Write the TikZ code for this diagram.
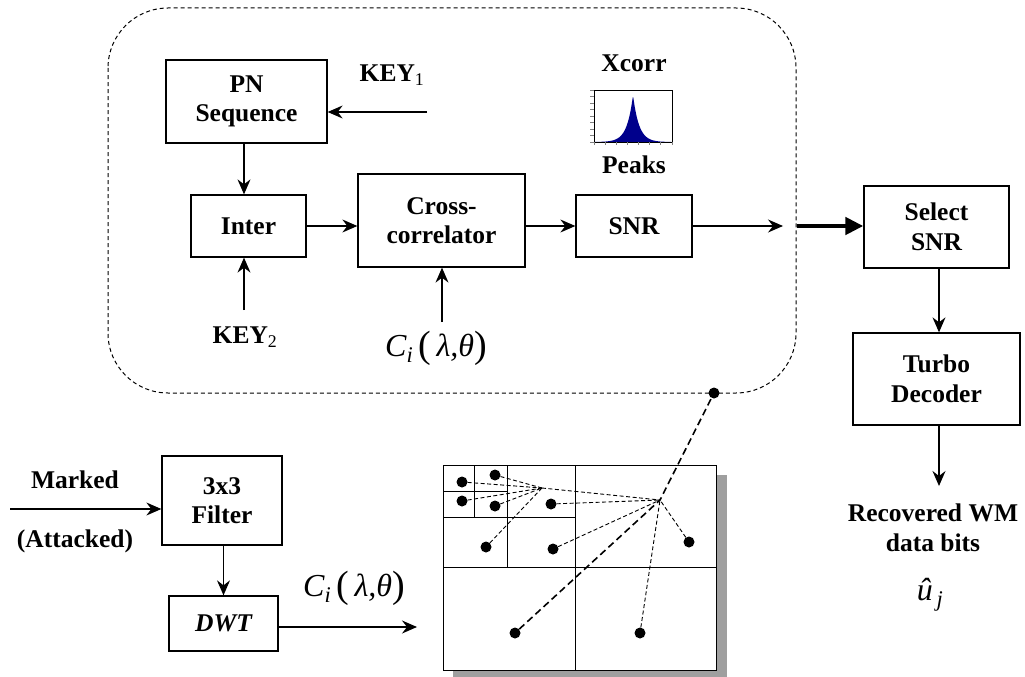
\documentclass[tikz,border=0pt]{standalone}
\usepackage{fontspec}
\setmainfont{LiberationSerif}[Extension=.ttf, UprightFont=*-Regular, BoldFont=*-Bold, ItalicFont=*-Italic, BoldItalicFont=*-BoldItalic]
\usetikzlibrary{arrows.meta,calc}
\definecolor{peakblue}{RGB}{0,0,140}
\newcommand\lbfont{\fontsize{25.5}{29.5}\selectfont\bfseries}
\newcommand\mathlbl{\fontsize{32}{36}\selectfont\itshape}
\newcommand\bigpar[1]{{\upshape\fontsize{38}{38}\selectfont\raisebox{-1pt}{#1}}}
\newcommand\coefflabel{C\textsubscript{i}\,\bigpar{(}\,λ,θ\bigpar{)}}
\tikzset{
  box/.style={draw, line width=1.3pt, fill=white, align=center, inner sep=0pt, font=\lbfont},
  lbl/.style={align=center, inner sep=0pt, font=\lbfont},
  mlbl/.style={inner sep=0pt, font=\mathlbl},
  arr/.style={line width=1.2pt, -{Stealth[length=15pt,width=13pt,inset=5pt]}},
  fatarr/.style={line width=4.5pt, -{Triangle[length=18pt,width=17pt]}},
  frame/.style={line width=1pt, dash pattern=on 4pt off 3pt},
  grid/.style={line width=1pt},
  dot/.style={circle, fill=black, inner sep=0pt, minimum size=11pt},
  link/.style={line width=0.9pt, dash pattern=on 4pt off 2.5pt},
  fatlink/.style={line width=1.6pt, dash pattern=on 7pt off 4pt},
}
\begin{document}
\begin{tikzpicture}[x=1pt,y=-1pt]
\useasboundingbox (0,0) rectangle (1025,677);

% detector enclosure
\draw[frame, rounded corners=60pt] (108,8) rectangle (796,393);
\coordinate (tap) at (714,393);

% processing blocks
\node[box, minimum width=161pt, minimum height=83pt] (pn) at (246.5,101.5) {PN\\Sequence};
\node[box, minimum width=115pt, minimum height=62pt] (inter) at (248.5,226) {Inter};
\node[box, minimum width=167pt, minimum height=93pt] (cross) at (441.5,220.5) {Cross-\\correlator};
\node[box, minimum width=116pt, minimum height=62pt] (snr) at (634,226) {SNR};
\node[box, minimum width=145pt, minimum height=82pt] (sel) at (936.5,227) {Select\\SNR};
\node[box, minimum width=167pt, minimum height=92pt] (turbo) at (936.5,379) {Turbo\\Decoder};
\node[box, minimum width=120pt, minimum height=89pt] (filt) at (222,500.5) {3x3\\Filter};
\node[box, minimum width=109pt, minimum height=55pt] (dwt) at (223.5,623.5) {\itshape DWT};

% labels
\node[lbl] (key1) at (392,75) {KEY\textsubscript{\mdseries 1}};
\node[lbl] (key2) at (245,337) {KEY\textsubscript{\mdseries 2}};
\node[mlbl] (ci1) at (436,348) {\coefflabel};
\node[mlbl] (ci2) at (354,588) {\coefflabel};
\node[lbl] (xcorr) at (634,63) {Xcorr};
\node[lbl] (peaks) at (634,165) {Peaks};
\node[lbl] (marked) at (75,480) {Marked};
\node[lbl] (attacked) at (75,541) {(Attacked)};
\node[lbl] (rec) at (933,528) {Recovered WM\\data bits};
\node[mlbl] (uhat) at (930,595) {û\textsubscript{\,j}};

% cross-correlation peak thumbnail
\begin{scope}
  \fill[peakblue] plot[domain=595:671, samples=120] (\x, {142-47*exp(-abs(\x-633)/6)}) -- (671,142) -- (595,142) -- cycle;
  \draw[line width=0.6pt] (594,90) rectangle (672,142);
  \foreach \t in {0,...,8} \draw[gray, line width=0.4pt] (590,{90+\t*6.5}) -- (594,{90+\t*6.5});
  \foreach \t in {0,...,7} \draw[gray, line width=0.4pt] ({594+\t*11.1},142) -- ({594+\t*11.1},145);
\end{scope}

% free ends of connectors
\coordinate (k1end) at (427,112);
\coordinate (k2end) at (244,310);
\coordinate (ciend) at (442,322);
\coordinate (snrout) at (783,226);
\coordinate (fatstart) at (797,226);
\coordinate (recin) at (939,486);
\coordinate (inp) at (10,509);
\coordinate (dwtout) at (417,627);

% connectors
\draw[arr] (k1end) -- (k1end -| pn.east);
\draw[arr] (pn.south -| k2end) -- (inter.north -| k2end);
\draw[arr] (k2end) -- (k2end |- inter.south);
\draw[arr] (inter.east) -- (inter.east -| cross.west);
\draw[arr] (ciend) -- (ciend |- cross.south);
\draw[arr] (cross.east |- snr.west) -- (snr.west);
\draw[arr] (snr.east) -- (snrout);
\draw[fatarr] (fatstart) -- (fatstart -| sel.west);
\draw[arr] (sel.south -| recin) -- (turbo.north -| recin);
\draw[arr] (turbo.south -| recin) -- (recin);
\draw[arr] (inp) -- (inp -| filt.west);
\draw[arr] (filt.south -| dwt.north) -- (dwt.north);
\draw[arr] (dwt.east |- dwtout) -- (dwtout);

% wavelet subband layout with drop shadow
\fill[gray!75] (453,475) rectangle (727,682);
\draw[grid, fill=white] (443,465) rectangle (716,670);
\draw[grid] (575,465) -- (575,670);
\draw[grid] (443,567) -- (716,567);
\draw[grid] (507,465) -- (507,567);
\draw[grid] (443,517) -- (575,517);
\draw[grid] (474,465) -- (474,517);
\draw[grid] (443,491) -- (507,491);

% coefficients and their links
\coordinate (f2) at (542,488);
\coordinate (f1) at (660,500);
\node[dot] (a1) at (462,482) {};
\node[dot] (a2) at (495,475) {};
\node[dot] (a3) at (462,501) {};
\node[dot] (a4) at (495,506) {};
\node[dot] (b1) at (486,547) {};
\node[dot] (b2) at (551,504) {};
\node[dot] (b3) at (553,549) {};
\node[dot] (c1) at (689,542) {};
\node[dot] (c2) at (515,633) {};
\node[dot] (c3) at (640,633) {};
\node[dot] (t0) at (tap) {};

\foreach \p in {a1,a2,a3,a4,b1} \draw[link] (\p) -- (f2);
\draw[link] (f2) -- (f1);
\foreach \p in {b2,b3,c1,c3} \draw[link] (\p) -- (f1);
\draw[fatlink] (c2) -- (f1) -- (t0);
\end{tikzpicture}
\end{document}
